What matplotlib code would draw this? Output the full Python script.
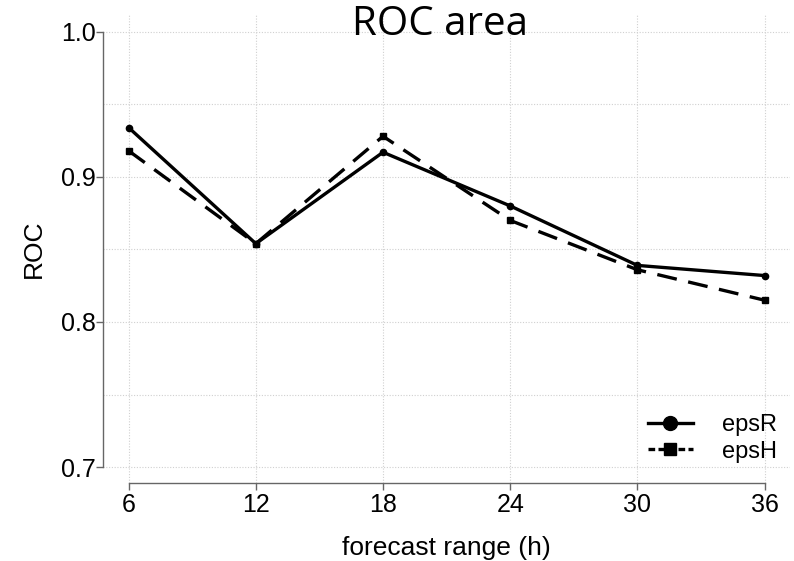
import matplotlib
matplotlib.use("Agg")
import matplotlib.pyplot as plt
from matplotlib.lines import Line2D

ranges = [6, 12, 18, 24, 30, 36]
epsR = [0.934, 0.854, 0.917, 0.880, 0.839, 0.832]
epsH = [0.918, 0.854, 0.928, 0.870, 0.836, 0.815]
xticks = [6, 12, 18, 24, 30, 36]
yticks = [0.7, 0.8, 0.9, 1.0]
ygrid = [0.7, 0.75, 0.8, 0.85, 0.9, 0.95, 1.0]

fig = plt.figure(figsize=(7.94, 5.61), dpi=100)
ax = fig.add_axes([0.1297, 0.139, 0.995 - 0.1297, 0.973 - 0.139])
ax.set_xlim(4.79, 37.2)
ax.set_ylim(0.689, 1.0115)

for g in xticks:
    ax.axvline(g, color="#d0d0d0", lw=0.8, ls=(0, (1, 1.5)), zorder=0)
for g in ygrid:
    ax.axhline(g, color="#d0d0d0", lw=0.8, ls=(0, (1, 1.5)), zorder=0)

ax.plot(ranges, epsR, color="black", lw=2.4, marker="o", ms=4.5, zorder=3)
ax.plot(ranges, epsH, color="black", lw=2.4, ls=(0, (6, 3.5)), marker="s", ms=4.2, zorder=3)

for s in ["top", "right"]:
    ax.spines[s].set_visible(False)
for s in ["left", "bottom"]:
    ax.spines[s].set_color("#666666")
    ax.spines[s].set_linewidth(1.0)
ax.spines["left"].set_bounds(0.7, 1.0)
ax.spines["bottom"].set_bounds(6, 36)

ax.set_xticks(xticks)
ax.set_xticklabels([str(v) for v in xticks])
ax.set_yticks(yticks)
ax.set_yticklabels([f"{v:.1f}" for v in yticks])
ax.tick_params(axis="both", colors="#666666", length=5, width=1.0,
               labelsize=18, labelcolor="black")
ax.tick_params(axis="x", pad=2)
ax.tick_params(axis="y", pad=0)
for lab in ax.get_xticklabels() + ax.get_yticklabels():
    lab.set_family("Liberation Sans")

ax.set_xlabel("forecast range (h)", fontsize=19, family="Liberation Sans", labelpad=14)
ax.set_ylabel("ROC", fontsize=19, family="Liberation Sans", labelpad=11)

handles = [
    Line2D([], [], color="black", lw=2.4, marker="o", ms=10),
    Line2D([], [], color="black", lw=2.4, ls=(0, (2, 1)), marker="s", ms=9),
]
ax.legend(handles, ["epsR", "epsH"], loc="upper left", frameon=False,
          prop={"family": "Liberation Sans", "size": 17},
          bbox_to_anchor=(648 / 794, 1 - 414 / 561), bbox_transform=fig.transFigure,
          borderpad=0, borderaxespad=0, handlelength=1.9, handletextpad=1.25,
          labelspacing=0.2)

fig.text(0.554, 0.955, "ROC area", ha="center", va="center", fontsize=29,
         family="Open Sans")

fig.savefig("out.png", dpi=100)
